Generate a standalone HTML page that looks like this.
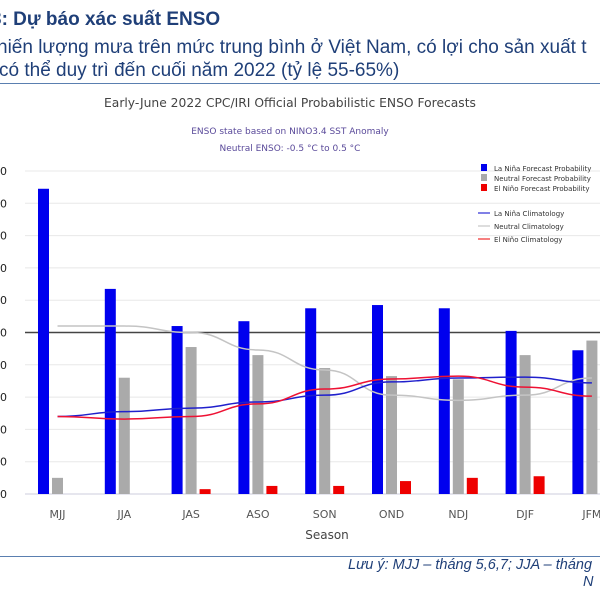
<!DOCTYPE html>
<html><head><meta charset="utf-8"><style>
body{margin:0;width:600px;height:600px;overflow:hidden;background:#fff;font-family:"Liberation Sans",sans-serif;position:relative}
.t{position:absolute;white-space:nowrap}
</style></head><body>
<div class="t" style="left:-9px;top:9px;font-size:19px;font-weight:bold;color:#1f3f78">3: Dự báo xác suất ENSO</div>
<div class="t" style="left:-3px;top:37px;font-size:19px;color:#1f3f78">hiến lượng mưa trên mức trung bình ở Việt Nam, có lợi cho sản xuất t</div>
<div class="t" style="left:-1px;top:60px;font-size:19px;color:#1f3f78">có thể duy trì đến cuối năm 2022 (tỷ lệ 55-65%)</div>
<div style="position:absolute;left:0;top:83px;width:600px;height:1px;background:#5a7fb0"></div>
<svg width="600" height="600" style="position:absolute;left:0;top:0;font-family:'DejaVu Sans',sans-serif" id="c">
<text x="290" y="107" text-anchor="middle" font-size="12.3" fill="#444">Early-June 2022 CPC/IRI Official Probabilistic ENSO Forecasts</text>
<text x="290" y="134" text-anchor="middle" font-size="9" fill="#5a4a9a">ENSO state based on NINO3.4 SST Anomaly</text>
<text x="290" y="151" text-anchor="middle" font-size="9" fill="#5a4a9a">Neutral ENSO: -0.5 °C to 0.5 °C</text>
<g id="grid"></g><g id="bars"></g><g id="lines"></g>
<text x="327" y="539" text-anchor="middle" font-size="12" fill="#444">Season</text>
<g font-size="7" fill="#333">
<rect x="481" y="164" width="6" height="7" fill="#0000ee"/><text x="494" y="171">La Niña Forecast Probability</text>
<rect x="481" y="174" width="6" height="7" fill="#aaa"/><text x="494" y="181">Neutral Forecast Probability</text>
<rect x="481" y="184" width="6" height="7" fill="#ee0000"/><text x="494" y="191">El Niño Forecast Probability</text>
<line x1="478" y1="213" x2="490" y2="213" stroke="#0000cc"/><text x="494" y="216">La Niña Climatology</text>
<line x1="478" y1="226" x2="490" y2="226" stroke="#bbb"/><text x="494" y="229">Neutral Climatology</text>
<line x1="478" y1="239" x2="490" y2="239" stroke="#e00"/><text x="494" y="242">El Niño Climatology</text>
</g>
</svg>
<div style="position:absolute;left:0;top:556px;width:600px;height:1px;background:#5a7fb0"></div>
<div class="t" style="left:348px;top:557px;font-size:14.5px;font-style:italic;color:#1f3f78">Lưu ý: MJJ – tháng 5,6,7; JJA – tháng</div>
<div class="t" style="left:583px;top:574px;font-size:14.5px;font-style:italic;color:#1f3f78">N</div>
<script>
const categories=["MJJ","JJA","JAS","ASO","SON","OND","NDJ","DJF","JFM"];
const laNina=[94.5,63.5,52,53.5,57.5,58.5,57.5,50.5,44.5];
const neutral=[5,36,45.5,43,39,36.5,35.5,43,47.5];
const elNino=[0,0,1.5,2.5,2.5,4,5,5.5,8];
const laNinaClim=[24,25.5,26.6,28.5,30.6,34.7,35.9,36.2,34.4];
const neutralClim=[52,52,50,44.6,38.4,30.6,29,30.6,35.9];
const elNinoClim=[24,23.2,24,27.9,32.5,35.6,36.5,33.1,30.3];
const yTicks=[0,10,20,30,40,50,60,70,80,90,100];
const NS="http://www.w3.org/2000/svg";
const y=v=>494-v*3.23, x=i=>57.5+i*66.8;
function mk(p,t,a){const e=document.createElementNS(NS,t);for(const k in a)e.setAttribute(k,a[k]);document.getElementById(p).appendChild(e);return e;}
yTicks.forEach(v=>{
 const l=mk("grid","line",{x1:25,x2:600,y1:y(v),y2:y(v),stroke:v==50?"#444":(v==0?"#ccd":"#e8e8e8"),"stroke-width":v==50?1.5:1});
 
 
 const t=mk("grid","text",{x:7,y:y(v)+4,"text-anchor":"end","font-size":11,fill:"#222"});t.textContent=v;
 
 
});
categories.forEach((c,i)=>{
 const t=mk("grid","text",{x:x(i),y:518,"text-anchor":"middle","font-size":11,fill:"#555"});t.textContent=c;
 
 
 [[laNina,"#0000ee",-14],[neutral,"#aaaaaa",0],[elNino,"#ee0000",14]].forEach(([s,col,o])=>{
  const r=mk("bars","rect",{x:x(i)+o-5.5,y:y(s[i]),width:11,height:494-y(s[i]),fill:col});
  
  
 });
});
function curve(s){let d="M"+x(0)+","+y(s[0]);for(let i=1;i<s.length;i++){const x0=x(i-1),x1=x(i),xm=(x0+x1)/2;d+=" C"+xm+","+y(s[i-1])+" "+xm+","+y(s[i])+" "+x1+","+y(s[i]);}return d;}
[[neutralClim,"#c4c4c4","neutral-climatology-line"],[laNinaClim,"#2020cc","la-nina-climatology-line"],[elNinoClim,"#ee1133","el-nino-climatology-line"]].forEach(([s,col,n])=>{
 const p=mk("lines","path",{d:curve(s),fill:"none",stroke:col,"stroke-width":1.5});
 
 
});
</script>
</body></html>
